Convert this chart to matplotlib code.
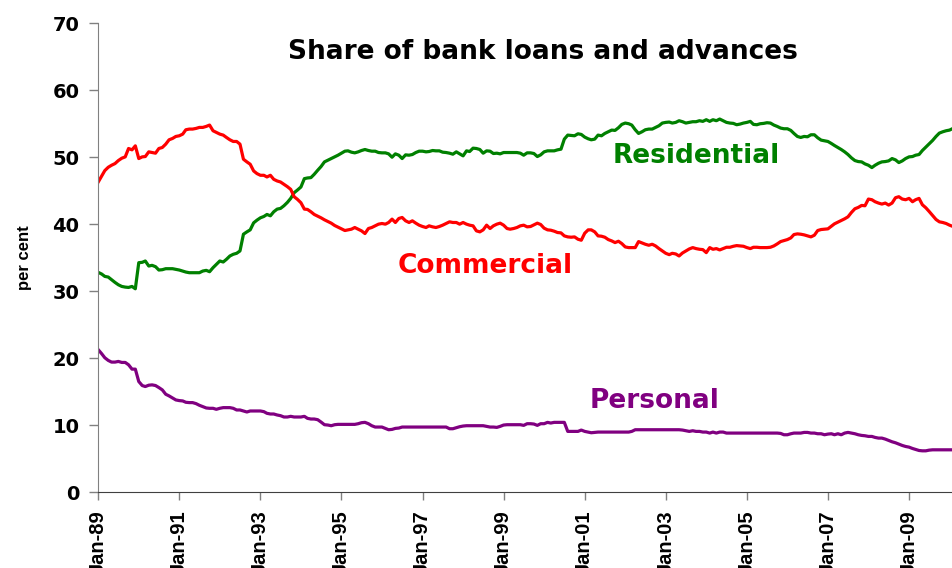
import numpy as np
import pandas as pd
import matplotlib
matplotlib.use('Agg')
import matplotlib.pyplot as plt
import matplotlib.dates as mdates

# monthly observations, Jan-89 .. Feb-10 (one row per year)
months = pd.date_range('1989-01-01', periods=254, freq='MS')

residential = [
    32.8, 32.55, 32.2, 32.1, 31.7, 31.3, 30.95, 30.7, 30.6, 30.55, 30.7, 30.35,
    34.25, 34.3, 34.5, 33.75, 33.85, 33.65, 33.15, 33.2, 33.35, 33.35, 33.35, 33.25,
    33.15, 33.0, 32.85, 32.75, 32.75, 32.75, 32.75, 33.0, 33.1, 32.9, 33.5, 34.0,
    34.5, 34.35, 34.75, 35.25, 35.5, 35.65, 36.0, 38.5, 38.85, 39.15, 40.2, 40.6,
    40.95, 41.15, 41.45, 41.25, 41.85, 42.25, 42.35, 42.75, 43.25, 43.85, 44.7, 45.1,
    45.55, 46.8, 46.9, 46.95, 47.45, 48.05, 48.6, 49.3, 49.55, 49.8, 50.05, 50.3,
    50.6, 50.9, 50.95, 50.75, 50.65, 50.8, 51.0, 51.15, 51.0, 50.9, 50.9, 50.7,
    50.65, 50.65, 50.5, 50.0, 50.5, 50.3, 49.8, 50.35, 50.3, 50.4, 50.7, 50.9,
    50.9, 50.8, 50.85, 51.0, 50.95, 50.95, 50.75, 50.7, 50.6, 50.45, 50.8, 50.5,
    50.2, 50.95, 50.85, 51.35, 51.3, 51.15, 50.6, 50.95, 50.9, 50.55, 50.6, 50.5,
    50.7, 50.7, 50.7, 50.7, 50.7, 50.6, 50.3, 50.65, 50.65, 50.55, 50.1, 50.35,
    50.8, 50.95, 50.95, 50.95, 51.1, 51.2, 52.7, 53.3, 53.25, 53.2, 53.5, 53.4,
    53.0, 52.75, 52.6, 52.7, 53.3, 53.2, 53.55, 53.8, 54.05, 54.0, 54.4, 54.9,
    55.1, 55.0, 54.8, 54.1, 53.55, 53.8, 54.1, 54.2, 54.2, 54.45, 54.7, 55.1,
    55.2, 55.25, 55.1, 55.2, 55.45, 55.3, 55.1, 55.2, 55.3, 55.3, 55.45, 55.35,
    55.6, 55.35, 55.6, 55.45, 55.7, 55.45, 55.2, 55.1, 55.05, 54.85, 54.95, 55.1,
    55.2, 55.35, 54.9, 54.85, 55.0, 55.05, 55.15, 55.1, 54.8, 54.6, 54.35, 54.25,
    54.25, 54.0, 53.55, 53.1, 52.95, 53.1, 53.05, 53.35, 53.35, 52.9, 52.55, 52.45,
    52.35, 52.05, 51.75, 51.45, 51.15, 50.8, 50.4, 49.9, 49.5, 49.35, 49.3, 49.0,
    48.8, 48.45, 48.8, 49.1, 49.3, 49.35, 49.45, 49.8, 49.6, 49.2, 49.45, 49.8,
    50.05, 50.1, 50.3, 50.4, 51.0, 51.5, 52.0, 52.5, 53.1, 53.6, 53.8, 53.95,
    54.05, 54.3,
]

commercial = [
    46.3, 47.2, 48.0, 48.5, 48.8, 49.05, 49.5, 49.85, 50.05, 51.3, 51.1, 51.7,
    49.8, 50.05, 50.1, 50.8, 50.7, 50.6, 51.3, 51.45, 51.95, 52.6, 52.8, 53.1,
    53.2, 53.45, 54.1, 54.2, 54.2, 54.3, 54.45, 54.45, 54.6, 54.8, 53.95, 53.7,
    53.45, 53.3, 52.95, 52.6, 52.35, 52.35, 51.95, 49.7, 49.3, 48.95, 47.95, 47.55,
    47.3, 47.3, 47.05, 47.3, 46.7, 46.45, 46.3, 45.95, 45.6, 45.2, 44.1, 43.7,
    43.2, 42.25, 42.2, 41.85, 41.45, 41.2, 40.95, 40.65, 40.4, 40.15, 39.8, 39.55,
    39.3, 39.05, 39.15, 39.25, 39.5, 39.25, 39.0, 38.6, 39.35, 39.5, 39.75, 40.0,
    40.1, 40.0, 40.25, 40.75, 40.25, 40.85, 41.0, 40.5, 40.25, 40.5, 40.15, 39.85,
    39.65, 39.5, 39.75, 39.6, 39.5, 39.65, 39.85, 40.1, 40.35, 40.25, 40.25, 40.0,
    40.25, 40.0, 39.85, 39.75, 39.0, 38.85, 39.15, 39.85, 39.35, 39.75, 40.0, 40.15,
    39.85, 39.35, 39.25, 39.35, 39.5, 39.75, 39.85, 39.6, 39.65, 39.9, 40.15, 39.95,
    39.4, 39.15, 39.1, 38.95, 38.75, 38.7, 38.25, 38.1, 38.05, 38.1, 37.75, 37.6,
    38.65, 39.15, 39.15, 38.85, 38.25, 38.2, 38.05, 37.7, 37.5, 37.25, 37.45, 37.1,
    36.6, 36.5, 36.5, 36.5, 37.4, 37.2, 37.0, 36.85, 37.0, 36.75, 36.35, 36.0,
    35.65, 35.45, 35.65, 35.55, 35.25, 35.7, 36.0, 36.3, 36.5, 36.35, 36.25, 36.2,
    35.75, 36.5, 36.25, 36.35, 36.15, 36.35, 36.55, 36.55, 36.7, 36.8, 36.75, 36.7,
    36.5, 36.35, 36.55, 36.55, 36.5, 36.5, 36.5, 36.55, 36.75, 37.05, 37.4, 37.55,
    37.7, 37.95, 38.45, 38.55, 38.5, 38.4, 38.25, 38.1, 38.35, 39.05, 39.2, 39.25,
    39.3, 39.7, 40.05, 40.3, 40.55, 40.8, 41.1, 41.75, 42.3, 42.5, 42.8, 42.75,
    43.75, 43.65, 43.35, 43.15, 43.0, 43.15, 42.85, 43.15, 43.95, 44.1, 43.75, 43.65,
    43.85, 43.35, 43.65, 43.85, 42.9, 42.45, 41.9, 41.3, 40.7, 40.35, 40.25, 40.1,
    39.85, 39.65,
]

personal = [
    21.25, 20.65, 20.05, 19.65, 19.4, 19.4, 19.5, 19.35, 19.35, 19.0, 18.35, 18.35,
    16.5, 15.9, 15.75, 15.95, 16.0, 15.9, 15.6, 15.25, 14.6, 14.35, 14.05, 13.75,
    13.65, 13.6, 13.4, 13.35, 13.35, 13.2, 12.95, 12.75, 12.55, 12.5, 12.5, 12.35,
    12.5, 12.6, 12.6, 12.6, 12.5, 12.25, 12.25, 12.1, 11.95, 12.1, 12.1, 12.1,
    12.1, 12.0, 11.75, 11.65, 11.65, 11.5, 11.4, 11.2, 11.2, 11.3, 11.2, 11.2,
    11.2, 11.3, 11.0, 10.9, 10.9, 10.8, 10.45, 10.05, 10.0, 9.9, 10.05, 10.1,
    10.1, 10.1, 10.1, 10.1, 10.1, 10.2, 10.35, 10.4, 10.2, 9.9, 9.7, 9.7,
    9.7, 9.5, 9.3, 9.35, 9.5, 9.55, 9.7, 9.7, 9.7, 9.7, 9.7, 9.7,
    9.7, 9.7, 9.7, 9.7, 9.7, 9.7, 9.7, 9.7, 9.45, 9.45, 9.6, 9.75,
    9.85, 9.9, 9.9, 9.9, 9.9, 9.9, 9.9, 9.8, 9.7, 9.7, 9.65, 9.8,
    10.0, 10.05, 10.05, 10.05, 10.05, 10.05, 9.95, 10.2, 10.2, 10.15, 9.95, 10.2,
    10.2, 10.4, 10.3, 10.4, 10.4, 10.4, 10.4, 9.05, 9.05, 9.05, 9.05, 9.25,
    9.05, 8.95, 8.85, 8.9, 8.95, 8.95, 8.95, 8.95, 8.95, 8.95, 8.95, 8.95,
    8.95, 8.95, 9.05, 9.3, 9.3, 9.3, 9.3, 9.3, 9.3, 9.3, 9.3, 9.3,
    9.3, 9.3, 9.3, 9.3, 9.3, 9.25, 9.15, 9.05, 9.15, 9.05, 9.05, 8.95,
    8.95, 8.8, 8.95, 8.8, 8.95, 8.95, 8.8, 8.8, 8.8, 8.8, 8.8, 8.8,
    8.8, 8.8, 8.8, 8.8, 8.8, 8.8, 8.8, 8.8, 8.8, 8.8, 8.75, 8.55,
    8.55, 8.7, 8.8, 8.8, 8.8, 8.9, 8.9, 8.8, 8.8, 8.7, 8.7, 8.55,
    8.65, 8.7, 8.55, 8.7, 8.55, 8.8, 8.9, 8.8, 8.7, 8.55, 8.45, 8.4,
    8.3, 8.3, 8.15, 8.05, 8.05, 7.9, 7.7, 7.5, 7.35, 7.15, 6.95, 6.8,
    6.7, 6.5, 6.35, 6.2, 6.15, 6.15, 6.25, 6.3, 6.3, 6.3, 6.3, 6.3,
    6.3, 6.3,
]

tick_dates = pd.date_range('1989-01-01', '2009-01-01', freq='24MS')
y_ticks = [0, 10, 20, 30, 40, 50, 60, 70]

# wide bold face for horizontal text, narrower one for the rotated labels
wide = ['DejaVu Sans']
narrow = ['Liberation Sans', 'DejaVu Sans']
plt.rcParams['font.family'] = wide
plt.rcParams['font.weight'] = 'bold'

fig = plt.figure(figsize=(9.53, 5.68), dpi=100)
ax = fig.add_axes([0.1031, 0.1338, 0.8969, 0.8252])

ax.plot(months, residential, color='#008000', lw=2.3)
ax.plot(months, commercial, color='#ff0000', lw=2.3)
ax.plot(months, personal, color='#800080', lw=2.3)

ax.set_xlim(months[0], months[-1])
ax.set_ylim(0, 70)
ax.set_yticks(y_ticks)
ax.set_xticks(tick_dates)
ax.xaxis.set_major_formatter(mdates.DateFormatter('%b-%y'))

# only left and bottom axis lines
for s in ['top', 'right']:
    ax.spines[s].set_visible(False)
ax.spines['left'].set_color('#808080')
ax.spines['bottom'].set_color('#404040')
ax.tick_params(axis='y', length=6.5, width=1, color='#808080', labelsize=14, pad=7)
ax.tick_params(axis='x', length=6, width=1, color='#808080', pad=7,
               labelrotation=90)
for lab in ax.get_xticklabels():
    lab.set_family(narrow)
    lab.set_fontsize(14.5)

fig.text(0.0257, 0.546, 'per cent', rotation=90, ha='center', va='center',
         fontsize=12, fontweight='bold', family=narrow)

ax.text(0.520, 0.939, 'Share of bank loans and advances', transform=ax.transAxes,
        ha='center', va='center', fontsize=19, fontweight='bold', color='black')
ax.text(0.700, 0.717, 'Residential', transform=ax.transAxes,
        ha='center', va='center', fontsize=19, fontweight='bold', color='#008000')
ax.text(0.453, 0.482, 'Commercial', transform=ax.transAxes,
        ha='center', va='center', fontsize=19, fontweight='bold', color='#ff0000')
ax.text(0.651, 0.194, 'Personal', transform=ax.transAxes,
        ha='center', va='center', fontsize=19, fontweight='bold', color='#800080')

fig.savefig('out.png', dpi=100)
